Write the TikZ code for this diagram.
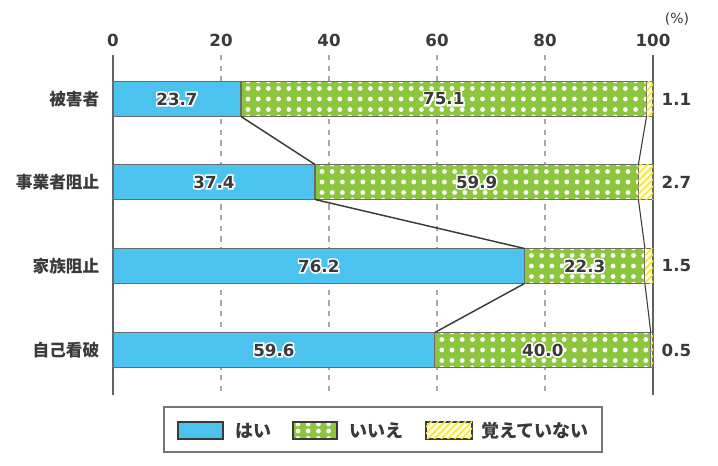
\documentclass[tikz,border=0pt]{standalone}
\usepackage{fontspec}
\setmainfont{DejaVu Sans}
\newfontfamily\jpfont{Noto Sans CJK JP}
\usetikzlibrary{patterns.meta}

\definecolor{haiblue}{HTML}{4CC3EE}
\definecolor{iiegreen}{HTML}{8CC63F}
\definecolor{hatchyellow}{HTML}{F5E52A}
\definecolor{paleyellow}{HTML}{FFFCD8}
\definecolor{inkgray}{HTML}{3A3A3A}
\definecolor{gridgray}{HTML}{A8A8A8}

\tikzset{
  seg/.style={draw=inkgray!75, line width=0.8},
  haiseg/.style={seg, fill=haiblue},
  oboeseg/.style={seg, fill=paleyellow, postaction={pattern={Lines[angle=45, distance=3.6pt, line width=1.1pt]}, pattern color=hatchyellow}},
  val/.style={text=inkgray, font=\bfseries\fontsize{12.5}{14}\selectfont},
  cat/.style={text=inkgray, font=\jpfont\bfseries\fontsize{12.5}{14}\selectfont, anchor=east},
  legtext/.style={cat, anchor=west, font=\jpfont\bfseries\fontsize{13.5}{15}\selectfont},
  link/.style={draw=inkgray, line width=1.1},
}

% green bar with white dots: x0, x1, y centre
\newcommand\dotbar[3]{%
  \begin{scope}
    \clip (#1,#3-17.5) rectangle (#2,#3+17.5);
    \fill[iiegreen] (#1,#3-17.5) rectangle (#2,#3+17.5);
    \foreach \dx in {7,17.2,...,560}
      \foreach \dy in {-18,-10.5,0,10.5,18}
        \fill[white] (#1+\dx,#3+\dy) circle (1.8pt);
  \end{scope}
  \draw[seg] (#1,#3-17.5) rectangle (#2,#3+17.5);}

% text with a white outline (stroked copy underneath)
\newcommand\halo[1]{%
  \rlap{\color{white}\special{pdf:literal direct 2 Tr 2.4 w}#1\special{pdf:literal direct 0 Tr 0.8 w}}#1}

\begin{document}
\begin{tikzpicture}[x=0.75pt, y=-0.75pt]
\useasboundingbox (0,0) rectangle (718,466);

% grid lines and axes
\foreach \g in {221,329,437,545}
  \draw[gridgray, dashed, dash pattern=on 4pt off 4pt, line width=0.8] (\g,55) -- (\g,395);
\draw[inkgray!80, line width=1.4] (113,55) -- (113,395);
\draw[inkgray!80, line width=1.4] (653,55) -- (653,395);

% tick labels
\node[val] (t0) at (113,40) {0};
\node[val] (t20) at (221,40) {20};
\node[val] (t40) at (329,40) {40};
\node[val] (t60) at (437,40) {60};
\node[val] (t80) at (545,40) {80};
\node[val] (t100) at (653,40) {100};
\node[val, font=\fontsize{10.5}{12}\selectfont] (pct) at (677,19) {(\%)};

% bar 1
\draw[haiseg] (113,81.5) rectangle (241,116.5);
\dotbar{241}{646.5}{99}
\draw[oboeseg] (646.5,81.5) rectangle (653,116.5);
\node[val] (v1a) at (177,99) {\halo{23.7}};
\node[val] (v1b) at (443.8,99) {\halo{75.1}};
\node[cat] (c1) at (104,99) {被害者};
\node[val, anchor=west] (r1) at (657,99) {1.1};

% bar 2
\draw[haiseg] (113,164.5) rectangle (315,199.5);
\dotbar{315}{638.4}{182}
\draw[oboeseg] (638.4,164.5) rectangle (653,199.5);
\node[val] (v2a) at (214,182) {\halo{37.4}};
\node[val] (v2b) at (476.7,182) {\halo{59.9}};
\node[cat] (c2) at (104,182) {事業者阻止};
\node[val, anchor=west] (r2) at (657,182) {2.7};

% bar 3
\draw[haiseg] (113,248.5) rectangle (524.5,283.5);
\dotbar{524.5}{644.9}{266}
\draw[oboeseg] (644.9,248.5) rectangle (653,283.5);
\node[val] (v3a) at (318.8,266) {\halo{76.2}};
\node[val] (v3b) at (584.7,266) {\halo{22.3}};
\node[cat] (c3) at (104,266) {家族阻止};
\node[val, anchor=west] (r3) at (657,266) {1.5};

% bar 4
\draw[haiseg] (113,332.5) rectangle (434.8,367.5);
\dotbar{434.8}{650.8}{350}
\draw[oboeseg] (650.8,332.5) rectangle (653,367.5);
\node[val] (v4a) at (273.9,350) {\halo{59.6}};
\node[val] (v4b) at (542.8,350) {\halo{40.0}};
\node[cat] (c4) at (104,350) {自己看破};
\node[val, anchor=west] (r4) at (657,350) {0.5};

% connecting lines
\coordinate (h1) at (241,116.5);
\coordinate (h2t) at (315,164.5);
\coordinate (h2b) at (315,199.5);
\coordinate (h3t) at (524.5,248.5);
\coordinate (h3b) at (524.5,283.5);
\coordinate (h4) at (434.8,332.5);
\draw[link] (h1) -- (h2t);
\draw[link] (h2b) -- (h3t);
\draw[link] (h3b) -- (h4);
\coordinate (e1) at (646.5,116.5);
\coordinate (e2t) at (638.4,164.5);
\coordinate (e2b) at (638.4,199.5);
\coordinate (e3t) at (644.9,248.5);
\coordinate (e3b) at (644.9,283.5);
\coordinate (e4) at (650.8,332.5);
\draw[link, line width=0.8] (e1) -- (e2t);
\draw[link, line width=0.8] (e2b) -- (e3t);
\draw[link, line width=0.8] (e3b) -- (e4);

% legend
\draw[inkgray!70, line width=1.1, fill=white] (164,407) rectangle (602,452);
\draw[haiseg, draw=inkgray] (178,422) rectangle (223,439);
\node[legtext] (lhai) at (231,430.5) {はい};
\begin{scope}
  \clip (293,422) rectangle (337,439);
  \fill[iiegreen] (293,422) rectangle (337,439);
  \foreach \dx in {5,15.2,...,44}
    \foreach \dy in {424,431,438.5}
      \fill[white] (293+\dx,\dy) circle (1.8pt);
\end{scope}
\draw[seg, draw=inkgray] (293,422) rectangle (337,439);
\node[legtext] (liie) at (345,430.5) {いいえ};
\draw[oboeseg, draw=inkgray] (426,422) rectangle (472,439);
\node[legtext] (loboe) at (477,430.5) {覚えていない};

\end{tikzpicture}
\end{document}
